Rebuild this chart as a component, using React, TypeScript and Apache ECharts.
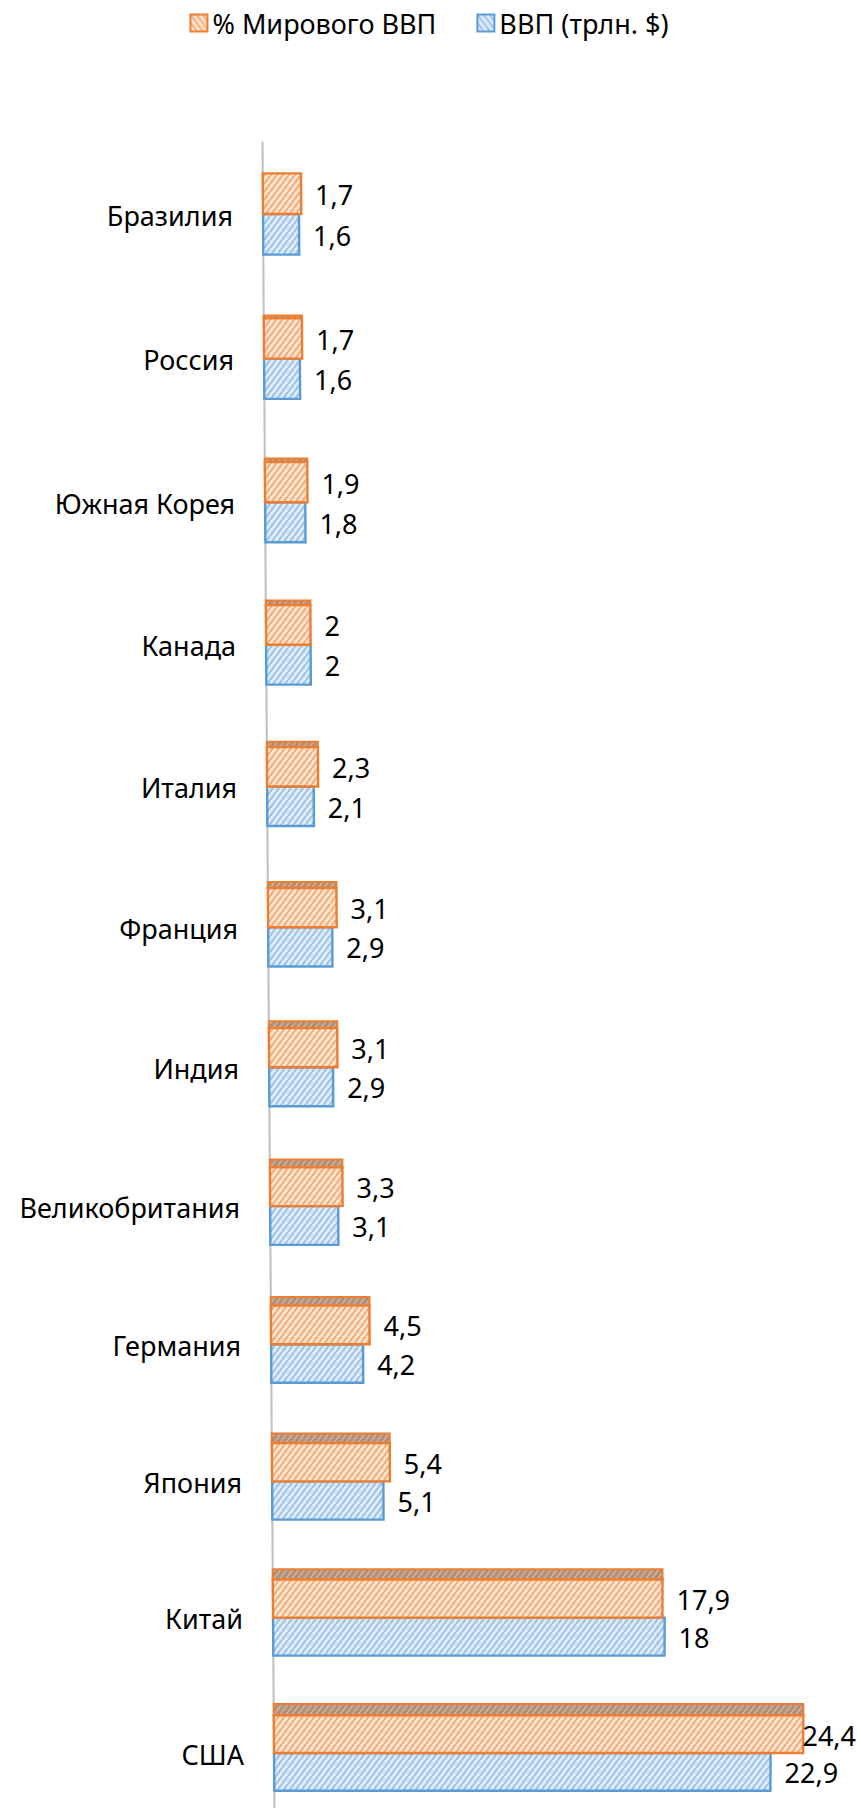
import React, { useEffect, useRef } from 'react';
import * as echarts from 'echarts';

// ---- data (top to bottom as shown) ----
const categories = [
  'Бразилия', 'Россия', 'Южная Корея', 'Канада', 'Италия', 'Франция',
  'Индия', 'Великобритания', 'Германия', 'Япония', 'Китай', 'США',
];
const worldSharePct = [1.7, 1.7, 1.9, 2, 2.3, 3.1, 3.1, 3.3, 4.5, 5.4, 17.9, 24.4];
const gdpTrillion = [1.6, 1.6, 1.8, 2, 2.1, 2.9, 2.9, 3.1, 4.2, 5.1, 18, 22.9];
const seriesNames = ['% Мирового ВВП', 'ВВП (трлн. $)'];
const xMax = 25;

// ---- style ----
const FONT = '"Noto Sans", "DejaVu Sans", sans-serif';
const FS = 27;
const ORANGE = '#ed7d31';
const BLUE = '#5b9bd5';
const PERSP = 0.04; // 3D perspective strength
const VANISH_X = 0.554; // horizontal centre of perspective (fraction of grid width)
const BAR_FRAC = 0.28;
const LABEL_GAP = 14;
const CAT_GAP = 30;

function makePattern(bg: string, fg: string, lw = 2.2, back = false) {
  const w = 6, h = 8;
  const c = document.createElement('canvas');
  c.width = w; c.height = h;
  const g = c.getContext('2d')!;
  g.fillStyle = bg; g.fillRect(0, 0, w, h);
  g.strokeStyle = fg; g.lineWidth = lw;
  g.beginPath();
  for (const o of [-w, 0, w]) {
    if (back) { g.moveTo(o, 0); g.lineTo(o + w, h); }
    else { g.moveTo(o, h); g.lineTo(o + w, 0); }
  }
  g.stroke();
  return { image: c.toDataURL(), imageWidth: w, imageHeight: h, repeat: 'repeat' } as any;
}

let measureCtx: CanvasRenderingContext2D | null = null;
function measure(t: string) {
  if (!measureCtx) {
    measureCtx = document.createElement('canvas').getContext('2d');
  }
  measureCtx!.font = `${FS}px ${FONT}`;
  return measureCtx!.measureText(t).width;
}
const fmt = (v: number) => String(v).replace('.', ',');

function project(cs: any, x: number, y: number) {
  const u = (y - cs.y) / cs.height;
  const f = (1 + PERSP) / (1 + PERSP * u);
  const cx = cs.x + cs.width * VANISH_X;
  return [cx + (x - cx) * f, cs.y + cs.height * u * f];
}

export default function App() {
  const ref = useRef<HTMLDivElement>(null);
  useEffect(() => {
    if (!ref.current) return;
    const chart = echarts.init(ref.current, undefined, { renderer: 'svg' });
    const orangeFill = makePattern('#fde6d5', '#f5ad78');
    const blueFill = makePattern('#e0ecf8', '#9fc4e8');
    const orangeLegend = makePattern('#fde6d5', '#f5ad78', 2.2, true);
    const blueLegend = makePattern('#e0ecf8', '#9fc4e8', 2.2, true);
    const stripFill = makePattern('#b09078', '#d0b29e', 1.6);

    const makeRender = (which: 'orange' | 'blue') => (params: any, api: any) => {
      const cs = params.coordSys;
      const val = api.value(0);
      const ci = api.value(1);
      const base = api.coord([0, ci]);
      const end = api.coord([val, ci]);
      const band = api.size([0, 1])[1];
      const thick = band * BAR_FRAC;
      const y0 = which === 'orange' ? base[1] - thick : base[1];
      const y1 = y0 + thick;
      const p = (x: number, y: number) => project(cs, x, y);
      const tl = p(base[0], y0), tr = p(end[0], y0), br = p(end[0], y1), bl = p(base[0], y1);
      const color = which === 'orange' ? ORANGE : BLUE;
      const children: any[] = [];

      if (which === 'blue' && params.dataIndex === 0) {
        const a = p(cs.x, cs.y), b = p(cs.x, cs.y + cs.height);
        children.push({
          type: 'line', z2: -10,
          shape: { x1: a[0], y1: a[1], x2: b[0], y2: b[1] },
          style: { stroke: '#bfbfbf', lineWidth: 2 },
        });
      }

      if (which === 'orange') {
        const u = (y0 - cs.y) / cs.height;
        const s = u < 0.05 ? 0 : cs.height * (0.001 + 0.006 * u);
        if (s > 0) {
          children.push({
            type: 'polygon',
            shape: { points: [[tl[0], tl[1] - s], [tr[0], tr[1] - s], tr, tl] },
            style: { fill: stripFill, stroke: color, lineWidth: 2 },
          });
        }
      }

      children.push({
        type: 'polygon',
        shape: { points: [tl, tr, br, bl] },
        style: { fill: which === 'orange' ? orangeFill : blueFill, stroke: color, lineWidth: 2.4 },
      });

      const pm = p(end[0], (y0 + y1) / 2);
      const text = fmt(val);
      const w = measure(text);
      let lx = pm[0] + LABEL_GAP;
      const maxX = api.getWidth() - 2;
      if (lx + w > maxX) lx = maxX - w;
      children.push({
        type: 'text', x: lx, y: pm[1] + 1,
        style: { text, fill: '#000', fontSize: FS, fontFamily: FONT, align: 'left', verticalAlign: 'middle' },
      });

      if (which === 'blue') {
        const pa = p(base[0], base[1]);
        children.push({
          type: 'text', x: pa[0] - CAT_GAP, y: pa[1] + 1,
          style: {
            text: categories[ci], fill: '#000', fontSize: FS, fontFamily: FONT,
            align: 'right', verticalAlign: 'middle',
          },
        });
      }
      return { type: 'group', children };
    };

    chart.setOption({
      animation: false,
      legend: {
        top: 8, left: 'center', padding: 0,
        itemWidth: 17, itemHeight: 17, itemGap: 40,
        icon: 'rect',
        textStyle: { fontSize: FS, fontFamily: FONT, color: '#000', lineHeight: 30 },
        data: [
          { name: seriesNames[0], itemStyle: { color: orangeLegend, borderColor: ORANGE, borderWidth: 2 } },
          { name: seriesNames[1], itemStyle: { color: blueLegend, borderColor: BLUE, borderWidth: 2 } },
        ],
      },
      grid: { left: 274.5, top: 141.4, width: 541.25, height: 1679, outerBoundsMode: 'none', containLabel: false },
      xAxis: { type: 'value', min: 0, max: xMax, show: false },
      yAxis: { type: 'category', data: categories, inverse: true, show: false },
      series: [
        {
          type: 'custom', name: seriesNames[1], clip: false,
          itemStyle: { color: BLUE },
          encode: { x: 0, y: 1 },
          data: gdpTrillion.map((v, i) => [v, i]),
          renderItem: makeRender('blue'),
        },
        {
          type: 'custom', name: seriesNames[0], clip: false,
          itemStyle: { color: ORANGE },
          encode: { x: 0, y: 1 },
          data: worldSharePct.map((v, i) => [v, i]),
          renderItem: makeRender('orange'),
        },
      ],
    });
    return () => chart.dispose();
  }, []);
  return (
    <div
      ref={ref}
      style={{ position: 'absolute', left: 0, top: 0, width: 858, height: 1808, background: '#fff' }}
    />
  );
}
